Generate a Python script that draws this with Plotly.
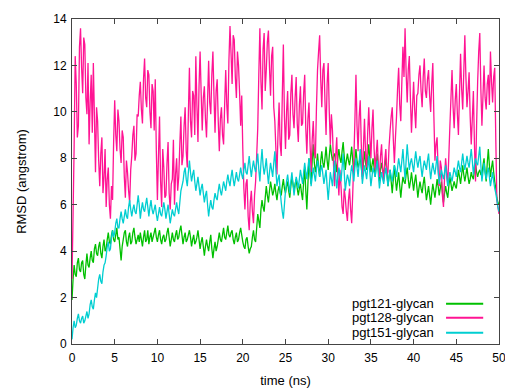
import numpy as np
import plotly.graph_objects as go

# sampled every 0.125 ns, 0..50 ns (one row per ns)
pgt121 = [
    1.9, 2.8, 3.4, 3.0, 2.9, 3.5, 3.7, 3.2,
    3.1, 3.5, 3.6, 3.0, 2.8, 3.4, 3.9, 3.4,
    3.3, 3.7, 4.0, 3.6, 3.5, 4.1, 4.3, 3.9,
    3.8, 4.2, 4.4, 3.9, 3.7, 4.2, 4.5, 4.0,
    4.1, 4.5, 4.8, 4.4, 4.3, 4.7, 4.9, 4.5,
    4.4, 4.7, 5.0, 4.5, 4.6, 4.1, 3.6, 4.2,
    4.5, 4.8, 4.9, 4.4, 4.2, 4.6, 4.8, 4.3,
    4.4, 4.8, 5.0, 4.6, 4.3, 4.5, 4.7, 4.4,
    4.8, 4.5, 4.2, 4.6, 4.9, 4.4, 4.5, 4.9,
    4.3, 4.6, 4.8, 4.4, 4.6, 4.8, 5.0, 4.6,
    4.4, 4.7, 4.9, 4.5, 4.3, 4.6, 4.7, 4.4,
    4.5, 4.8, 5.0, 4.6, 4.2, 4.5, 4.8, 4.5,
    4.4, 4.7, 4.9, 4.5, 4.6, 4.9, 5.1, 4.7,
    4.3, 4.6, 4.8, 4.4, 4.5, 4.7, 4.9, 4.6,
    4.2, 4.5, 4.7, 4.3, 4.4, 4.6, 4.9, 4.5,
    4.1, 4.4, 4.6, 4.2, 3.8, 4.2, 4.5, 4.2,
    4.0, 4.4, 4.7, 4.1, 3.7, 4.1, 4.4, 4.0,
    4.2, 4.5, 4.8, 4.5, 4.4, 4.7, 5.0, 4.6,
    4.5, 4.8, 5.1, 4.7, 4.6, 4.8, 4.9, 4.5,
    4.3, 4.6, 4.8, 4.4, 4.5, 4.8, 5.0, 4.7,
    4.4, 4.2, 4.1, 4.5, 4.6, 4.2, 3.9, 4.1,
    4.2, 4.6, 4.9, 4.5, 4.4, 5.0, 5.6, 5.3,
    5.0, 5.8, 6.2, 5.9, 5.7, 6.3, 6.8, 6.4,
    6.1, 6.6, 7.0, 6.7, 6.4, 6.6, 6.9, 6.5,
    6.2, 6.6, 6.8, 6.5, 6.4, 6.8, 7.1, 6.7,
    6.5, 6.8, 7.0, 6.6, 6.3, 6.8, 7.2, 6.9,
    6.6, 6.9, 7.1, 6.7, 6.4, 6.7, 6.9, 6.5,
    6.2, 7.0, 7.6, 6.6, 5.8, 6.9, 8.0, 7.3,
    6.9, 7.9, 8.6, 7.8, 7.4, 7.7, 8.2, 7.6,
    7.2, 7.9, 8.3, 7.8, 7.6, 8.0, 8.5, 7.9,
    7.5, 8.1, 8.6, 8.2, 7.9, 8.1, 8.2, 7.8,
    7.4, 8.0, 8.4, 8.0, 7.8, 8.3, 8.7, 8.1,
    7.5, 7.9, 8.2, 7.9, 7.7, 8.1, 8.5, 7.9,
    7.3, 7.9, 8.4, 7.9, 7.6, 7.8, 8.1, 7.6,
    7.2, 7.8, 8.3, 7.8, 7.5, 8.0, 8.6, 8.0,
    7.4, 7.7, 8.0, 7.6, 7.2, 7.7, 8.2, 7.5,
    7.0, 7.5, 7.8, 7.5, 7.3, 7.7, 8.0, 7.4,
    6.8, 7.2, 7.5, 7.0, 6.5, 7.1, 7.7, 7.1,
    6.6, 7.0, 7.4, 6.8, 6.3, 6.8, 7.2, 7.0,
    6.9, 7.3, 7.6, 7.1, 6.7, 7.0, 7.4, 7.0,
    6.6, 7.0, 7.3, 6.8, 6.3, 6.7, 7.0, 6.7,
    6.5, 6.9, 7.2, 6.7, 6.2, 6.5, 6.8, 6.4,
    6.0, 6.5, 6.9, 6.6, 6.3, 6.7, 7.1, 6.8,
    6.4, 6.7, 7.0, 6.5, 6.1, 6.5, 6.8, 6.5,
    6.3, 6.8, 7.2, 6.9, 6.6, 6.8, 7.0, 6.8,
    6.7, 7.1, 7.5, 7.2, 6.9, 7.3, 7.7, 7.3,
    7.0, 7.3, 7.6, 7.2, 6.9, 7.1, 7.4, 7.2,
    7.1, 7.5, 7.8, 7.4, 7.2, 7.4, 7.5, 7.3,
    7.3, 7.7, 8.0, 7.4, 7.0, 7.8, 8.4, 7.7,
    7.2, 7.6, 7.9, 7.4, 7.0, 6.7, 6.3, 6.1,
    6.0,
]
pgt128 = [
    2.8, 5.6, 8.5, 12.4, 11.2, 8.9, 9.4, 12.8,
    13.6, 11.9, 10.8, 13.2, 12.9, 10.6, 9.9, 12.1,
    8.6, 10.4, 11.6, 9.1, 12.1, 9.8, 7.4, 10.2,
    9.6, 7.9, 6.8, 8.2, 8.9, 6.5, 7.2, 8.4,
    5.9, 7.1, 7.6, 6.0, 5.4, 6.8, 6.2, 8.7,
    10.5, 9.0, 8.3, 10.1, 9.6, 8.4, 7.8, 9.2,
    8.9, 7.2, 6.3, 7.9, 7.4, 6.6, 6.1, 7.5,
    8.1, 9.0, 9.4, 7.9, 8.2, 9.9, 9.8, 10.7,
    11.3, 10.1, 9.5, 11.4, 12.3, 10.6, 10.2, 11.8,
    11.6, 10.0, 9.3, 11.2, 10.9, 9.2, 11.4, 8.3,
    6.2, 8.1, 9.8, 7.0, 5.9, 8.4, 7.6, 6.3,
    6.4, 7.8, 8.7, 6.5, 5.8, 6.9, 7.1, 8.8,
    6.0, 7.3, 8.0, 6.6, 7.2, 8.6, 9.8, 7.7,
    8.1, 9.4, 10.2, 8.3, 7.6, 9.9, 11.9, 9.6,
    8.9, 10.9, 10.7, 9.0, 12.4, 10.3, 8.7, 11.1,
    12.6, 10.8, 9.2, 10.6, 11.1, 9.7, 8.9, 10.5,
    12.2, 10.4, 9.9, 11.6, 12.6, 10.7, 9.1, 10.9,
    11.4, 9.6, 8.3, 9.7, 10.2, 9.0, 8.6, 10.3,
    11.8, 10.3, 9.5, 12.2, 13.7, 12.5, 11.2, 13.3,
    13.1, 11.5, 10.6, 12.6, 12.0, 10.8, 9.4, 10.7,
    8.4, 6.7, 5.8, 6.9, 7.1, 5.5, 4.9, 6.1,
    6.6, 5.7, 5.2, 6.4, 7.0, 8.1, 9.3, 11.6,
    13.6, 11.3, 10.1, 12.7, 13.4, 10.9, 11.8, 13.0,
    13.5, 11.9, 10.7, 12.4, 12.8, 10.2, 9.6, 8.4,
    7.3, 9.1, 10.4, 8.6, 8.1, 10.7, 12.9, 9.8,
    8.4, 10.0, 10.9, 8.8, 9.0, 10.8, 11.6, 9.9,
    9.3, 10.6, 11.5, 9.5, 8.7, 10.3, 11.1, 9.4,
    9.5, 10.8, 11.6, 9.3, 8.2, 9.7, 10.4, 8.6,
    7.4, 8.8, 9.6, 8.3, 8.0, 10.2, 11.8, 12.6,
    13.3, 11.4, 10.2, 11.8, 12.1, 10.4, 9.0, 11.2,
    12.1, 10.0, 8.6, 9.9, 9.2, 7.7, 6.8, 8.1,
    8.9, 7.3, 6.4, 7.5, 6.8, 5.9, 5.6, 6.7,
    6.3, 5.7, 5.3, 6.2, 6.7, 5.8, 5.2, 6.5,
    7.9, 9.6, 11.6, 9.4, 8.3, 9.8, 10.5, 8.6,
    7.1, 8.5, 9.7, 8.2, 7.6, 9.1, 10.2, 8.9,
    8.0, 9.3, 10.1, 8.4, 7.5, 8.2, 8.8, 7.6,
    7.2, 8.1, 8.6, 7.5, 7.0, 7.9, 8.4, 7.3,
    7.4, 8.5, 9.2, 9.8, 10.2, 8.8, 7.8, 8.9,
    9.8, 11.0, 11.9, 10.3, 9.6, 11.3, 12.8, 11.5,
    13.6, 11.7, 10.4, 11.8, 12.4, 10.6, 9.1, 10.2,
    11.3, 10.1, 9.3, 10.7, 10.8, 11.6, 12.0, 10.9,
    10.2, 11.5, 12.3, 10.9, 10.6, 11.4, 11.8, 10.7,
    10.0, 11.2, 12.1, 9.8, 7.9, 8.6, 8.9, 7.5,
    6.8, 7.9, 7.6, 6.4, 5.9, 7.2, 8.0, 7.4,
    6.9, 8.1, 9.4, 10.6, 11.8, 10.2, 9.3, 10.5,
    11.2, 9.9, 9.0, 10.8, 12.5, 11.0, 10.1, 11.7,
    13.3, 11.5, 10.2, 10.9, 11.7, 9.8, 8.6, 9.7,
    10.9, 8.6, 7.0, 9.4, 11.3, 12.6, 13.4, 11.0,
    9.4, 10.7, 12.0, 10.6, 10.1, 11.2, 11.6, 10.3,
    12.6, 11.3, 10.4, 11.5, 11.9, 8.8, 6.2, 5.9,
    5.6,
]
pgt151 = [
    0.2, 0.7, 1.0, 0.7, 0.8, 1.1, 1.3, 1.0,
    0.9, 1.1, 1.2, 0.9, 1.0, 1.2, 1.4, 1.1,
    1.3, 1.7, 1.9, 1.6, 1.5, 1.9, 2.2, 2.0,
    2.4, 2.8, 3.0, 2.7, 2.6, 3.1, 3.4, 3.5,
    3.8, 4.2, 4.4, 4.0, 4.1, 4.6, 4.9, 4.6,
    4.8, 5.2, 5.4, 5.0, 5.0, 5.4, 5.7, 5.4,
    5.2, 5.5, 5.8, 5.5, 5.4, 5.9, 6.2, 5.8,
    5.5, 5.8, 6.0, 5.7, 5.6, 6.0, 6.4, 6.0,
    5.4, 5.8, 6.1, 5.8, 5.7, 6.0, 6.3, 5.9,
    5.5, 5.9, 6.2, 5.8, 5.6, 5.8, 6.0, 5.6,
    5.3, 5.6, 5.9, 5.6, 5.5, 5.8, 6.1, 5.8,
    5.4, 5.7, 6.0, 5.6, 5.2, 5.5, 5.8, 5.6,
    5.5, 5.8, 6.1, 5.8, 5.6, 6.1, 6.6, 6.8,
    7.0, 7.4, 7.6, 7.1, 6.8, 7.4, 7.9, 7.4,
    7.0, 7.3, 7.5, 7.0, 6.6, 6.9, 7.2, 6.8,
    6.4, 6.7, 6.9, 6.5, 6.1, 6.4, 6.6, 6.0,
    5.5, 5.9, 6.2, 5.9, 5.8, 6.2, 6.5, 6.3,
    6.2, 6.6, 6.9, 6.6, 6.4, 6.7, 7.0, 6.8,
    6.6, 7.0, 7.3, 7.0, 6.8, 7.2, 7.5, 7.1,
    6.8, 7.1, 7.4, 7.1, 7.0, 7.3, 7.6, 7.3,
    7.1, 7.5, 7.8, 7.4, 7.3, 7.7, 8.1, 7.6,
    7.2, 7.6, 7.9, 7.6, 7.4, 7.8, 8.2, 7.5,
    7.0, 7.8, 8.4, 7.7, 7.3, 7.6, 8.0, 7.4,
    6.9, 7.4, 7.8, 7.5, 7.2, 7.8, 8.3, 7.5,
    6.8, 7.1, 7.3, 6.6, 6.1, 5.7, 5.4, 6.0,
    6.6, 7.0, 7.3, 6.9, 6.5, 7.0, 7.4, 6.9,
    6.4, 6.8, 7.2, 7.0, 6.7, 7.1, 7.5, 7.2,
    6.9, 7.4, 7.8, 7.4, 7.1, 7.6, 8.0, 7.4,
    6.8, 7.2, 7.6, 7.3, 7.0, 7.5, 7.9, 7.6,
    7.2, 7.5, 7.7, 7.3, 6.9, 7.2, 7.5, 6.8,
    6.2, 6.8, 7.4, 7.1, 6.8, 7.4, 7.9, 7.3,
    6.7, 7.2, 7.6, 7.3, 7.0, 7.6, 8.2, 7.4,
    6.6, 7.0, 7.3, 7.1, 6.8, 7.3, 7.7, 7.4,
    7.0, 7.6, 8.0, 7.6, 7.2, 7.8, 8.4, 7.7,
    6.9, 7.3, 7.7, 7.4, 7.1, 7.6, 8.1, 7.4,
    6.8, 7.2, 7.6, 7.4, 7.2, 7.6, 7.9, 7.3,
    6.7, 7.1, 7.4, 7.1, 6.9, 7.3, 7.6, 7.2,
    6.8, 7.2, 7.5, 7.2, 7.0, 7.4, 7.7, 7.5,
    7.2, 7.6, 8.0, 7.7, 7.4, 7.9, 8.4, 7.7,
    7.1, 7.9, 8.6, 8.0, 7.5, 7.8, 8.0, 7.7,
    7.4, 7.9, 8.3, 7.9, 7.6, 7.9, 8.1, 7.6,
    7.2, 7.6, 7.9, 7.7, 7.5, 7.9, 8.2, 7.6,
    7.1, 7.5, 7.8, 7.5, 7.3, 7.7, 8.1, 7.5,
    6.9, 7.2, 7.5, 7.3, 7.1, 7.4, 7.7, 7.2,
    6.8, 7.1, 7.4, 7.2, 7.0, 7.3, 7.6, 7.4,
    7.2, 7.6, 7.9, 7.6, 7.4, 7.8, 8.2, 7.8,
    7.5, 7.8, 8.1, 7.8, 7.6, 8.0, 8.4, 7.9,
    7.3, 7.7, 8.0, 7.8, 7.7, 8.1, 8.5, 7.7,
    7.0, 7.4, 7.8, 7.4, 7.1, 7.4, 7.6, 7.2,
    6.8, 7.1, 7.4, 7.0, 6.7, 6.5, 6.2, 5.9,
    5.7,
]
names = ["pgt121-glycan", "pgt128-glycan", "pgt151-glycan"]
colors = ["#00c000", "#ff1493", "#00ced1"]
series = [pgt121, pgt128, pgt151]
x_ticks = [0, 5, 10, 15, 20, 25, 30, 35, 40, 45, 50]
y_ticks = [0, 2, 4, 6, 8, 10, 12, 14]

FONT = "Liberation Sans, Arial, sans-serif"
fig = go.Figure()
for name, col, vals in zip(names, colors, series):
    t = np.linspace(0, 50, len(vals))
    fig.add_trace(go.Scatter(x=t, y=vals, mode="lines", name=name,
                             line=dict(color=col, width=1.3, simplify=False),
                             showlegend=False))

axis_common = dict(showline=True, linecolor="#444444", linewidth=1, mirror="ticks",
                   ticks="inside", ticklen=5, tickcolor="#444444", showgrid=False,
                   zeroline=False, automargin=False, ticklabeloverflow="allow",
                   tickfont=dict(family=FONT, size=12, color="#000"))
fig.update_layout(
    width=505, height=388,
    margin=dict(l=72, r=6, t=19, b=44),
    paper_bgcolor="white", plot_bgcolor="white",
    font=dict(family=FONT, size=12, color="#000"),
    xaxis=dict(range=[0, 50], tickvals=x_ticks, ticklabelstandoff=3,
               title=dict(text="time (ns)", standoff=12, font=dict(family=FONT, size=13)),
               **axis_common),
    yaxis=dict(range=[0, 14], tickvals=y_ticks, ticklabelstandoff=2,
               title=dict(text="RMSD (angstrom)", standoff=23, font=dict(family=FONT, size=13)),
               **axis_common),
)

# gnuplot-style key: text right-aligned, sample line to the right
key_y = [0.124, 0.081, 0.035]
for name, col, ky in zip(names, colors, key_y):
    fig.add_annotation(x=0.852, y=ky, xref="paper", yref="paper", text=name,
                       showarrow=False, xanchor="right", yanchor="middle",
                       font=dict(family=FONT, size=13, color="#000"))
    fig.add_shape(type="line", xref="paper", yref="paper", x0=0.876, x1=0.963,
                  y0=ky, y1=ky, line=dict(color=col, width=2))

fig.write_html("out.html", config={"displayModeBar": False},
               post_script="document.body.style.margin='0';")
